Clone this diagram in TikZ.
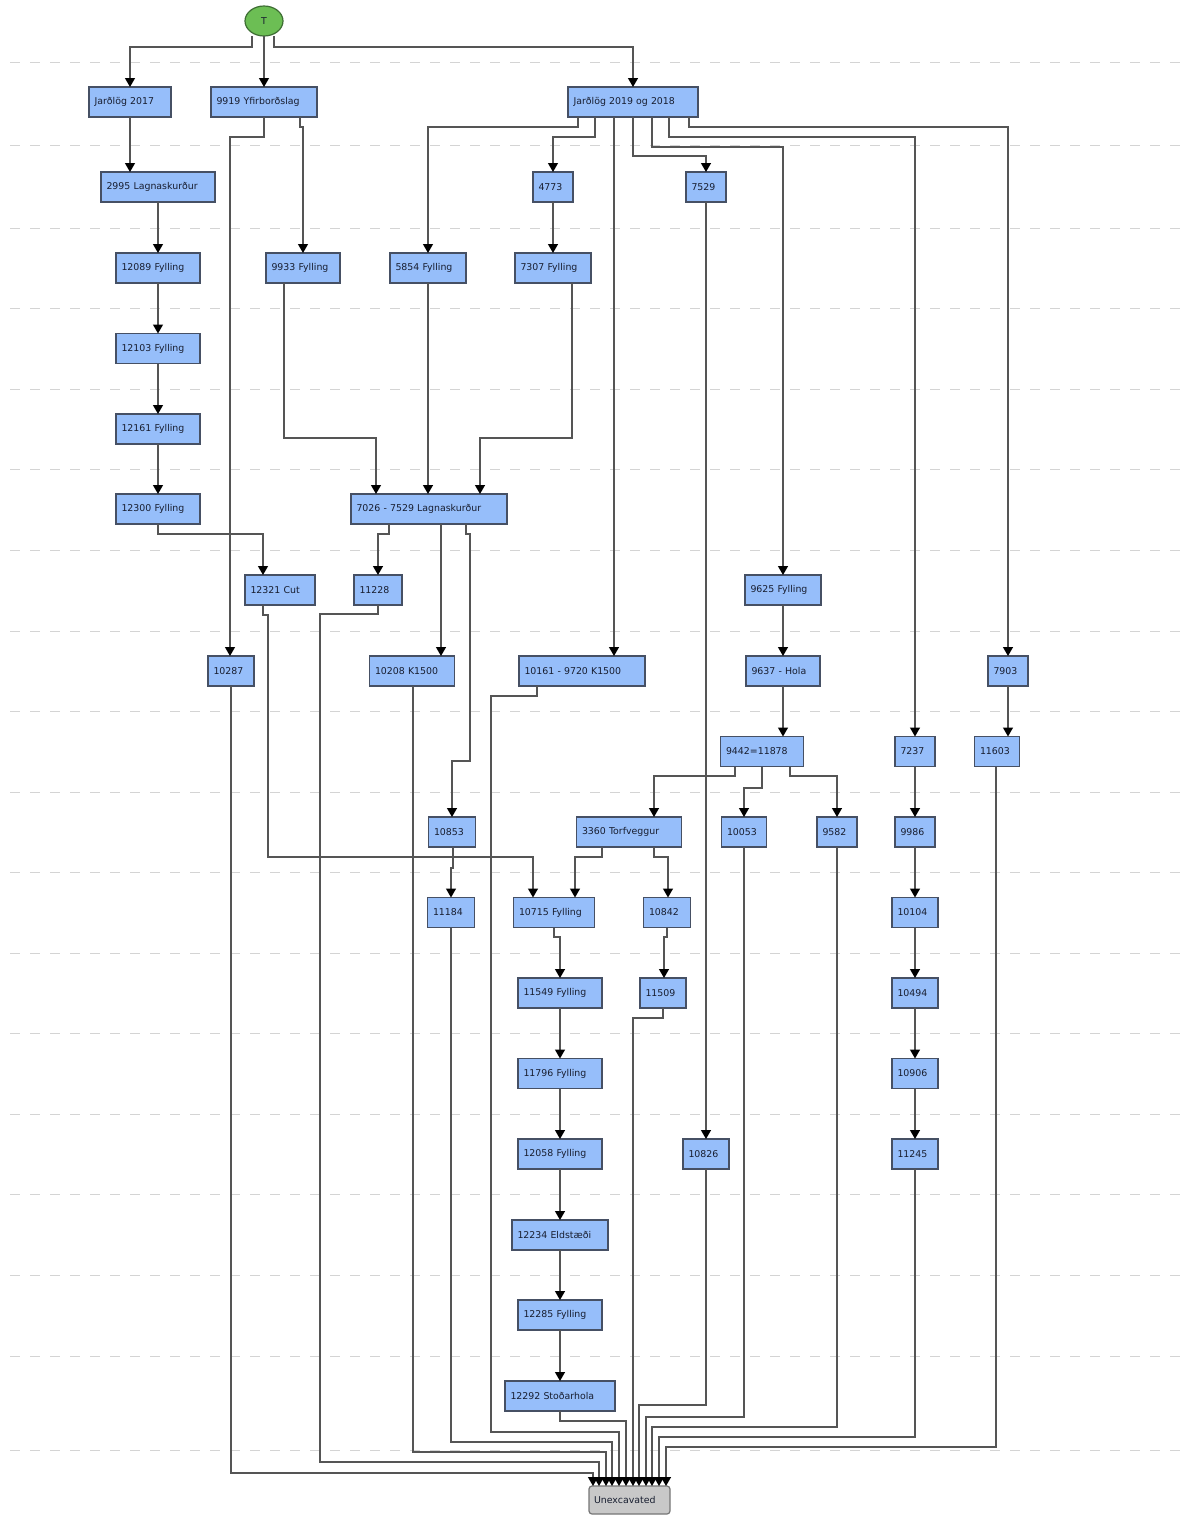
\documentclass[tikz,border=0pt]{standalone}
\usepackage{fontspec}
\setmainfont{DejaVu Sans}
\usetikzlibrary{arrows.meta, shapes.geometric}
\definecolor{ctxfill}{RGB}{150,190,250}
\definecolor{ctxline}{RGB}{70,80,100}
\definecolor{topfill}{RGB}{108,190,84}
\definecolor{topline}{RGB}{62,110,52}
\definecolor{floorfill}{RGB}{200,200,200}
\definecolor{floorline}{RGB}{118,118,118}
\definecolor{wire}{RGB}{85,85,85}
\definecolor{layerline}{RGB}{212,212,212}
\definecolor{txt}{RGB}{24,30,48}

\begin{document}
\begin{tikzpicture}[
    x=1pt, y=-1pt,
    ctx/.style={draw=ctxline, fill=ctxfill, line width=1.2pt, minimum height=30pt, inner xsep=5.5pt, inner ysep=0pt, outer sep=0pt, align=left, font=\fontsize{9.4}{11}\selectfont, text=txt},
    topnode/.style={draw=topline, fill=topfill, ellipse, line width=1.2pt, minimum width=38pt, minimum height=30pt, inner sep=0pt, outer sep=0pt, font=\fontsize{9.4}{11}\selectfont, text=txt},
    floornode/.style={draw=floorline, fill=floorfill, rounded corners=3pt, line width=1.2pt, minimum height=28pt, inner xsep=5pt, inner ysep=0pt, outer sep=0pt, text width=71pt, align=left, font=\fontsize{9.4}{11}\selectfont, text=txt},
    arr/.style={draw=wire, line width=1.3pt, -{Triangle[width=10pt,length=9pt,color=black]}},
    layer/.style={draw=layerline, line width=1pt, dash pattern=on 10pt off 10pt}
]
\useasboundingbox (0,0) rectangle (1180,1516);

\foreach \ly in {62,145,228,308,389,469,550,631,711,792,872,953,1033,1114,1194,1275,1356,1450}
    \draw[layer] (10,\ly) -- (1180,\ly);

\node[topnode] (T) at (264,21) {T};

\node[ctx, text width=71pt] (j17) at (130,102) {Jarðlög 2017};
\node[ctx, text width=95pt] (y9919) at (264,102) {9919 Yfirborðslag};
\node[ctx, text width=119pt] (j19) at (633,102) {Jarðlög 2019 og 2018};

\node[ctx, text width=103pt] (l2995) at (158,187) {2995 Lagnaskurður};
\node[ctx, text width=29pt] (u4773) at (553,187) {4773};
\node[ctx, text width=29pt] (u7529) at (706,187) {7529};

\node[ctx, text width=73pt] (f12089) at (158,268) {12089 Fylling};
\node[ctx, text width=63pt] (f9933) at (303,268) {9933 Fylling};
\node[ctx, text width=65pt] (f5854) at (428,268) {5854 Fylling};
\node[ctx, text width=65pt] (f7307) at (553,268) {7307 Fylling};

\node[ctx, text width=73pt] (f12103) at (158,348.5) {12103 Fylling};
\node[ctx, text width=73pt] (f12161) at (158,429) {12161 Fylling};
\node[ctx, text width=73pt] (f12300) at (158,509) {12300 Fylling};
\node[ctx, text width=145pt] (l7026) at (429,509) {7026 - 7529 Lagnaskurður};

\node[ctx, text width=59pt] (c12321) at (280,590) {12321 Cut};
\node[ctx, text width=37pt] (u11228) at (378,590) {11228};
\node[ctx, text width=65pt] (f9625) at (783,590) {9625 Fylling};

\node[ctx, text width=35pt] (u10287) at (231,671) {10287};
\node[ctx, text width=74pt] (k10208) at (412,671) {10208 K1500};
\node[ctx, text width=115pt] (k10161) at (582,671) {10161 - 9720 K1500};
\node[ctx, text width=63pt] (h9637) at (783,671) {9637 - Hola};
\node[ctx, text width=29pt] (u7903) at (1008,671) {7903};

\node[ctx, text width=72pt] (u9442) at (762,751.5) {9442=11878};
\node[ctx, text width=29pt] (u7237) at (915,751.5) {7237};
\node[ctx, text width=34pt] (u11603) at (997,751.5) {11603};

\node[ctx, text width=36pt] (u10853) at (452,832) {10853};
\node[ctx, text width=94pt] (t3360) at (629,832) {3360 Torfveggur};
\node[ctx, text width=34pt] (u10053) at (744,832) {10053};
\node[ctx, text width=29pt] (u9582) at (837,832) {9582};
\node[ctx, text width=29pt] (u9986) at (915,832) {9986};

\node[ctx, text width=36pt] (u11184) at (451,912.5) {11184};
\node[ctx, text width=70pt] (f10715) at (554,912.5) {10715 Fylling};
\node[ctx, text width=36pt] (u10842) at (667,912.5) {10842};
\node[ctx, text width=35pt] (u10104) at (915,912.5) {10104};

\node[ctx, text width=73pt] (f11549) at (560,993) {11549 Fylling};
\node[ctx, text width=35pt] (u11509) at (663,993) {11509};
\node[ctx, text width=35pt] (u10494) at (915,993) {10494};

\node[ctx, text width=73pt] (f11796) at (560,1073.5) {11796 Fylling};
\node[ctx, text width=35pt] (u10906) at (915,1073.5) {10906};

\node[ctx, text width=73pt] (f12058) at (560,1154) {12058 Fylling};
\node[ctx, text width=35pt] (u10826) at (706,1154) {10826};
\node[ctx, text width=35pt] (u11245) at (915,1154) {11245};

\node[ctx, text width=85pt] (e12234) at (560,1235) {12234 Eldstæði};
\node[ctx, text width=73pt] (f12285) at (560,1315) {12285 Fylling};
\node[ctx, text width=99pt] (s12292) at (560,1396) {12292 Stoðarhola};

\node[floornode] (unex) at (629.5,1500) {Unexcavated};

\draw[arr] (T.south -| 252,0) |- (130,47) -- (j17.north);
\draw[arr] (T.south) -- (y9919.north);
\draw[arr] (T.south -| 274,0) |- (633,47) -- (j19.north);

\draw[arr] (j17.south) -- (l2995.north -| j17.south);
\draw[arr] (l2995) -- (f12089);
\draw[arr] (f12089) -- (f12103);
\draw[arr] (f12103) -- (f12161);
\draw[arr] (f12161) -- (f12300);
\draw[arr] (f12300.south) |- (263,534) -- (c12321.north -| 263,0);

\draw[arr] (y9919.south) |- (230,137) -- (u10287.north -| 230,0);
\draw[arr] (y9919.south -| 300,0) |- (303,127) -- (f9933.north);
\draw[arr] (f9933.south -| 284,0) |- (376,438) -- (l7026.north -| 376,0);

\draw[arr] (j19.south -| 578,0) |- (428,127) -- (f5854.north);
\draw[arr] (j19.south -| 595,0) |- (553,137) -- (u4773.north);
\draw[arr] (j19.south -| 614,0) -- (k10161.north -| 614,0);
\draw[arr] (j19.south) |- (706,156) -- (u7529.north);
\draw[arr] (j19.south -| 652,0) |- (783,147) -- (f9625.north);
\draw[arr] (j19.south -| 669,0) |- (915,137) -- (u7237.north);
\draw[arr] (j19.south -| 689,0) |- (1008,127) -- (u7903.north);

\draw[arr] (u4773) -- (f7307);
\draw[arr] (f5854.south) -- (l7026.north -| f5854.south);
\draw[arr] (f7307.south -| 572,0) |- (480,438) -- (l7026.north -| 480,0);
\draw[arr] (u7529) -- (u10826);

\draw[arr] (l7026.south -| 389,0) |- (378,534) -- (u11228.north);
\draw[arr] (l7026.south -| 441,0) -- (k10208.north -| 441,0);
\draw[arr] (l7026.south -| 466,0) |- (470,534) |- (452,761) -- (u10853.north -| 452,0);

\draw[arr] (c12321.south -| 263,0) |- (268,615) |- (533,857) -- (f10715.north -| 533,0);

\draw[arr] (f9625) -- (h9637);
\draw[arr] (h9637.south) -- (u9442.north -| h9637.south);
\draw[arr] (u9442.south -| 735,0) |- (654,776) -- (t3360.north -| 654,0);
\draw[arr] (u9442.south -| 762,0) |- (744,788) -- (u10053.north -| 744,0);
\draw[arr] (u9442.south -| 790,0) |- (837,776) -- (u9582.north);

\draw[arr] (u7237) -- (u9986);
\draw[arr] (u9986) -- (u10104);
\draw[arr] (u10104) -- (u10494);
\draw[arr] (u10494) -- (u10906);
\draw[arr] (u10906) -- (u11245);
\draw[arr] (u7903.south) -- (u11603.north -| u7903.south);

\draw[arr] (u10853.south -| 453,0) |- (451,868) -- (u11184.north -| 451,0);
\draw[arr] (t3360.south -| 602,0) |- (575,857) -- (f10715.north -| 575,0);
\draw[arr] (t3360.south -| 654,0) |- (668,857) -- (u10842.north -| 668,0);
\draw[arr] (f10715.south -| 554,0) |- (560,937) -- (f11549.north -| 560,0);
\draw[arr] (u10842.south -| 667,0) |- (664,937) -- (u11509.north -| 664,0);

\draw[arr] (f11549) -- (f11796);
\draw[arr] (f11796) -- (f12058);
\draw[arr] (f12058) -- (e12234);
\draw[arr] (e12234) -- (f12285);
\draw[arr] (f12285) -- (s12292);

\draw[arr] (u10287.south) |- (593,1473) -- (unex.north -| 593,0);
\draw[arr] (u11228.south) |- (320,614) |- (599,1462) -- (unex.north -| 599,0);
\draw[arr] (k10208.south -| 413,0) |- (606,1452) -- (unex.north -| 606,0);
\draw[arr] (u11184.south) |- (612,1442) -- (unex.north -| 612,0);
\draw[arr] (k10161.south -| 537,0) |- (491,696) |- (619,1432) -- (unex.north -| 619,0);
\draw[arr] (s12292.south) |- (626,1421) -- (unex.north -| 626,0);
\draw[arr] (u11509.south) |- (633,1018) -- (unex.north -| 633,0);
\draw[arr] (u10826.south) |- (639,1405) -- (unex.north -| 639,0);
\draw[arr] (u10053.south) |- (646,1417) -- (unex.north -| 646,0);
\draw[arr] (u9582.south) |- (652,1427) -- (unex.north -| 652,0);
\draw[arr] (u11245.south) |- (659,1437) -- (unex.north -| 659,0);
\draw[arr] (u11603.south -| 996,0) |- (666,1447) -- (unex.north -| 666,0);
\end{tikzpicture}
\end{document}
